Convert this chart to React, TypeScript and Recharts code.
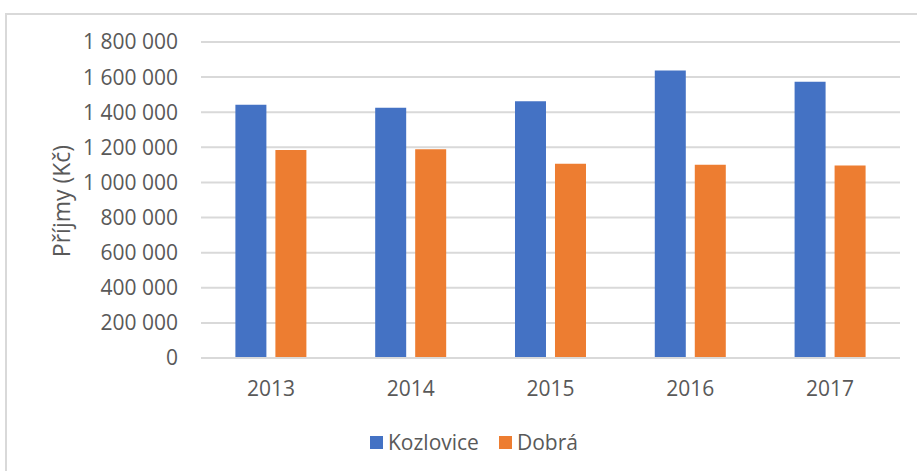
import { BarChart, Bar, XAxis, YAxis, CartesianGrid } from 'recharts';

const years = ['2013', '2014', '2015', '2016', '2017'];
const kozlovice = [1442000, 1426000, 1462000, 1637000, 1573000];
const dobra = [1185000, 1189000, 1107000, 1101000, 1096000];
const yTicks = [0, 200000, 400000, 600000, 800000, 1000000, 1200000, 1400000, 1600000, 1800000];

const data = years.map((year, i) => ({ year, kozlovice: kozlovice[i], dobra: dobra[i] }));

const FONT = '"Open Sans", sans-serif';
const TEXT = '#595959';

const fmt = (v: number) => v.toLocaleString('en-US').replace(/,/g, ' ');

const legendItems = [
  { name: 'Kozlovice', color: '#4472C4' },
  { name: 'Dobrá', color: '#ED7D31' }
];

export default function App() {
  return (
    <div style={{ position: 'fixed', left: 0, top: 0, width: 917, height: 471, background: '#fff', overflow: 'hidden' }}>
      <BarChart
        width={917}
        height={471}
        data={data}
        margin={{ top: 42, right: 17, bottom: 83, left: 0 }}
        barCategoryGap="24.6%"
        barGap={9}
      >
        <CartesianGrid vertical={false} stroke="#d9d9d9" strokeWidth={2} />
        <XAxis
          dataKey="year"
          height={30}
          axisLine={{ stroke: '#d9d9d9', strokeWidth: 2 }}
          tickLine={false}
          tickSize={0}
          tickMargin={23}
          tick={{ fill: TEXT, fontSize: 21, fontFamily: FONT }}
        />
        <YAxis
          width={201}
          domain={[0, 1800000]}
          ticks={yTicks}
          interval={0}
          axisLine={false}
          tickLine={false}
          tickSize={0}
          tickMargin={23}
          tickFormatter={fmt}
          tick={{ fill: TEXT, fontSize: 21, fontFamily: FONT }}
          label={{
            content: () => (
              <text
                x={61}
                y={201}
                transform="rotate(-90 61 201)"
                textAnchor="middle"
                dominantBaseline="central"
                fill={TEXT}
                fontSize={23}
                fontFamily={FONT}
              >
                Příjmy (Kč)
              </text>
            )
          }}
        />
        <Bar dataKey="kozlovice" name="Kozlovice" fill="#4472C4" isAnimationActive={false} />
        <Bar dataKey="dobra" name="Dobrá" fill="#ED7D31" isAnimationActive={false} />
      </BarChart>
      <div style={{ position: 'absolute', left: 370, top: 428, display: 'flex', alignItems: 'center', fontFamily: FONT, fontSize: 21, color: TEXT }}>
        {legendItems.map((it) => (
          <div key={it.name} style={{ display: 'flex', alignItems: 'center', marginRight: 20 }}>
            <div style={{ width: 13, height: 13, background: it.color, marginRight: 5 }}></div>
            <span>{it.name}</span>
          </div>
        ))}
      </div>
      <div style={{ position: 'absolute', left: 5, top: 13, width: 917, height: 2, background: '#d9d9d9' }}></div>
      <div style={{ position: 'absolute', left: 5, top: 13, width: 2, height: 471, background: '#d9d9d9' }}></div>
    </div>
  );
}
